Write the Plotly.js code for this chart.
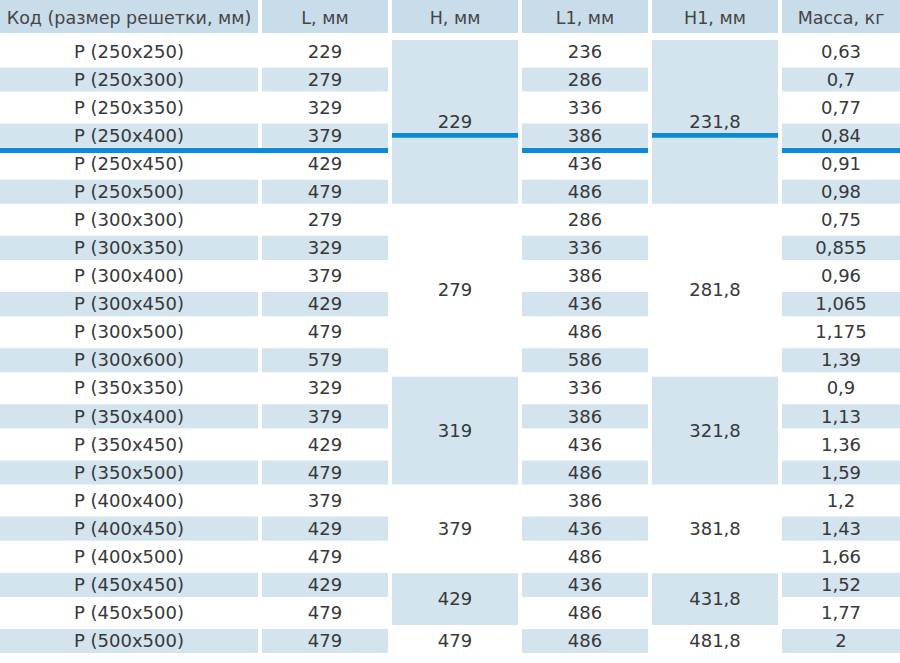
<!DOCTYPE html>
<html><head><meta charset="utf-8">
<script src="https://cdn.plot.ly/plotly-3.0.1.min.js"></script>
<style>html,body{margin:0;padding:0;background:#fff}</style>
</head><body>
<div id="chart" style="width:900px;height:663px"></div>
<script>
// ---- data ----
const headers = ["Код (размер решетки, мм)", "L, мм", "H, мм", "L1, мм", "H1, мм", "Масса, кг"];
const codes = ["P (250x250)","P (250x300)","P (250x350)","P (250x400)","P (250x450)","P (250x500)",
  "P (300x300)","P (300x350)","P (300x400)","P (300x450)","P (300x500)","P (300x600)",
  "P (350x350)","P (350x400)","P (350x450)","P (350x500)",
  "P (400x400)","P (400x450)","P (400x500)",
  "P (450x450)","P (450x500)",
  "P (500x500)"];
const lengthL = [229,279,329,379,429,479, 279,329,379,429,479,579, 329,379,429,479, 379,429,479, 429,479, 479];
const lengthL1 = [236,286,336,386,436,486, 286,336,386,436,486,586, 336,386,436,486, 386,436,486, 436,486, 486];
const mass = ["0,63","0,7","0,77","0,84","0,91","0,98","0,75","0,855","0,96","1,065","1,175","1,39",
  "0,9","1,13","1,36","1,59","1,2","1,43","1,66","1,52","1,77","2"];
const heightH = ["229","279","319","379","429","479"];
const heightH1 = ["231,8","281,8","321,8","381,8","431,8","481,8"];
const groupSizes = [6,6,4,3,2,1];
const markedRow = 3;

// ---- layout constants ----
const colEdges = [[0,258],[262,388],[392,518],[522,648],[652,778],[782,900]];
const BAND = '#d3e4ef', HEAD = '#c9dcea', LINE = '#0a8ad8', TXT = '#383838';
const HALF = 0.43, MERGE_TOP = 0.41;
const HEADER_Y = -1.12;

const centers = colEdges.map(e => (e[0] + e[1]) / 2);
const shapes = [];
function rect(x0, x1, y0, y1, color) {
  shapes.push({type:'rect', xref:'x', yref:'y', x0:x0, x1:x1, y0:y0, y1:y1,
    fillcolor:color, line:{width:0}, layer:'below'});
}
// header
colEdges.forEach(e => rect(e[0], e[1], -2, -0.655, HEAD));
// banded rows for plain columns
const plainCols = [0,1,3,5];
codes.forEach((c, i) => {
  if (i % 2 === 1) plainCols.forEach(k => rect(colEdges[k][0], colEdges[k][1], i - HALF, i + HALF, BAND));
});
// merged groups
const groupStart = [];
let s = 0;
groupSizes.forEach((n, g) => {
  groupStart.push(s);
  if (g % 2 === 0) [2,4].forEach(k => rect(colEdges[k][0], colEdges[k][1], s - MERGE_TOP, s + n - 1 + HALF, BAND));
  s += n;
});
// blue marker lines
rect(colEdges[0][0], colEdges[1][1], markedRow + 0.44, markedRow + 0.62, LINE);
rect(colEdges[3][0], colEdges[3][1], markedRow + 0.44, markedRow + 0.62, LINE);
rect(colEdges[5][0], colEdges[5][1], markedRow + 0.44, markedRow + 0.62, LINE);
rect(colEdges[2][0], colEdges[2][1], markedRow - 0.09, markedRow + 0.08, LINE);
rect(colEdges[4][0], colEdges[4][1], markedRow - 0.09, markedRow + 0.08, LINE);

// ---- text traces ----
const rows = codes.map((c, i) => i + 0.06);
const traces = [];
function textTrace(xs, ys, texts, color, size) {
  traces.push({type:'scatter', mode:'text', x:xs, y:ys, text:texts,
    textposition:'middle center', hoverinfo:'skip',
    textfont:{family:'DejaVu Sans, sans-serif', size:size, color:color}});
}
textTrace(centers, headers.map(() => HEADER_Y), headers, '#454545', 17.5);
textTrace(codes.map(() => centers[0]), rows, codes, TXT, 18);
textTrace(codes.map(() => centers[1]), rows, lengthL.map(String), TXT, 18);
textTrace(codes.map(() => centers[3]), rows, lengthL1.map(String), TXT, 18);
textTrace(codes.map(() => centers[5]), rows, mass, TXT, 18);
const gy = groupSizes.map((n, g) => groupStart[g] + (n - 1) / 2 + 0.06);
textTrace(gy.map(() => centers[2]), gy, heightH, TXT, 18);
textTrace(gy.map(() => centers[4]), gy, heightH1, TXT, 18);

const layout = {
  width:900, height:663, margin:{l:0, r:0, t:0, b:0},
  paper_bgcolor:'#ffffff', plot_bgcolor:'#ffffff', showlegend:false, hovermode:false,
  xaxis:{range:[0,900], visible:false, fixedrange:true},
  yaxis:{range:[21.785, -1.831], visible:false, fixedrange:true},
  shapes:shapes
};
Plotly.newPlot('chart', traces, layout, {displayModeBar:false, staticPlot:true});
</script>
</body></html>
